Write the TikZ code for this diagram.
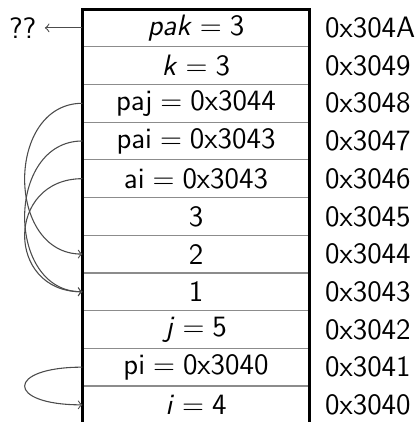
\documentclass[tikz,border=0pt]{standalone}
\tikzset{
  cell/.style={minimum width=3.312cm, minimum height=0.552cm, inner sep=0pt},
  addr/.style={anchor=west},
  sep/.style={black!45, line width=0.5pt},
  border/.style={line width=1.25pt},
  ptr/.style={->, black!70, line width=0.45pt}
}
\newcommand{\asgn}[2]{#1${}={}$#2}

\begin{document}
\begin{tikzpicture}[x=0.552cm, y=0.552cm, font=\fontsize{12.3}{14}\selectfont\sffamily]
  \useasboundingbox (-2.2,0.24) rectangle (8.86,-10.955);

  % memory cells, top to bottom
  \node[cell] (pak) at (3,-0.5) {\asgn{\textit{pak}}{3}};
  \node[cell] (k) at (3,-1.5) {\asgn{\textit{k}}{3}};
  \node[cell] (paj) at (3,-2.5) {\asgn{paj}{0x3044}};
  \node[cell] (pai) at (3,-3.5) {\asgn{pai}{0x3043}};
  \node[cell] (ai) at (3,-4.5) {\asgn{ai}{0x3043}};
  \node[cell] (v3) at (3,-5.5) {3};
  \node[cell] (v2) at (3,-6.5) {2};
  \node[cell] (v1) at (3,-7.5) {1};
  \node[cell] (j) at (3,-8.5) {\asgn{\textit{j}}{5}};
  \node[cell] (pi) at (3,-9.5) {\asgn{pi}{0x3040}};
  \node[cell] (i) at (3,-10.5) {\asgn{\textit{i}}{4}};

  \foreach \k in {1,...,10}
    \draw[sep] (0,-\k) -- (6,-\k);
  \draw[border] (0,-10.955) -- (0,0) -- (6,0) -- (6,-10.955);

  % addresses
  \foreach \a [count=\n] in {304A,3049,3048,3047,3046,3045,3044,3043,3042,3041,3040}
    \node[addr] (m\n) at (6.2,{0.5-\n}) {0x\a};

  % pointers
  \node[anchor=east] (unk) at (-1.01,-0.5) {??};
  \draw[ptr] (pak.west) -- (unk.east);
  \draw[ptr] (paj.west) .. controls +(-2.04,0) and +(-2.04,0) .. (v2.west);
  \draw[ptr] (pai.west) .. controls +(-2.04,0) and +(-2.04,0) .. (v1.west);
  \draw[ptr] (ai.west) .. controls +(-2.04,0) and +(-2.04,0) .. (v1.west);
  \draw[ptr] (pi.west) .. controls +(-2.04,0) and +(-2.04,0) .. (i.west);
\end{tikzpicture}
\end{document}
